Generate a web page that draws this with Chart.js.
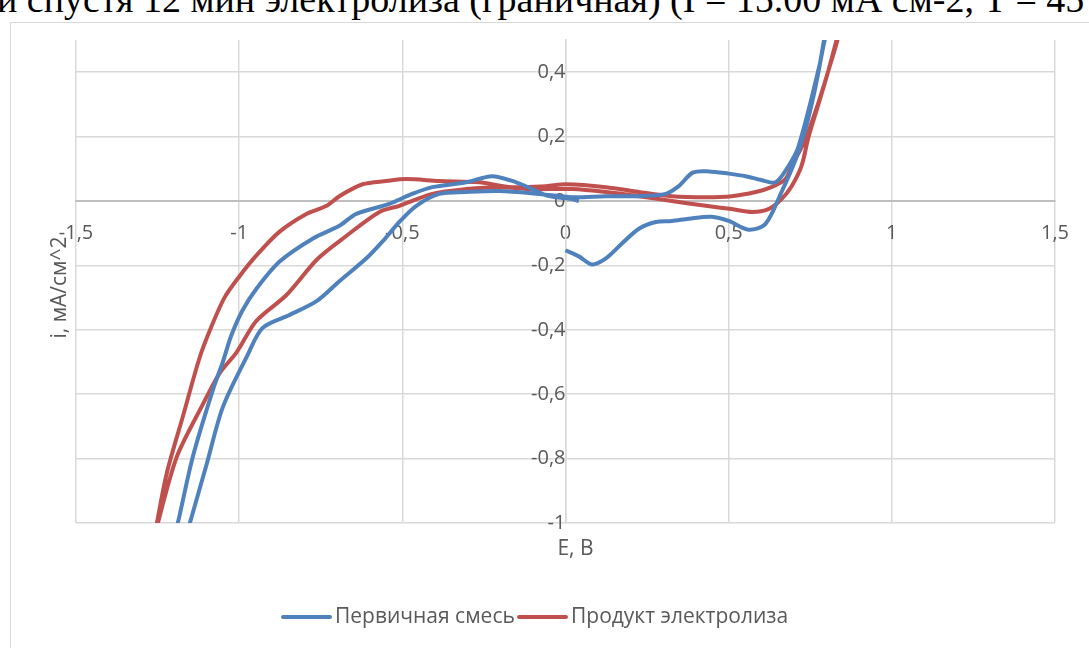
<!DOCTYPE html>
<html>
<head>
<meta charset="utf-8">
<script src="https://cdn.jsdelivr.net/npm/chart.js@4.4.1/dist/chart.umd.min.js"></script>
<style>
  html, body { margin: 0; padding: 0; background: #fff; overflow: hidden; }
  body { width: 1089px; height: 648px; position: relative; }
  .cut-title {
    position: absolute; left: -3px; top: -20px;
    font: 38px "Liberation Serif", "Times New Roman", serif;
    line-height: 38px; white-space: nowrap; color: #000;
  }
  .frame {
    position: absolute; left: 10px; top: 22px; width: 1100px; height: 700px;
    border: 1px solid #D9D9D9; box-sizing: border-box; background: #fff;
  }
  #chart { position: absolute; left: 0; top: 0; }
</style>
</head>
<body>
<div class="cut-title">и спустя 12 мин электролиза (граничная) (I = 15.00 мА см-2, T = 45</div>
<div class="frame"></div>
<canvas id="chart" width="1089" height="648"></canvas>
<script>
// axis ticks
const xTickValues = [-1.5, -1, -0.5, 0, 0.5, 1, 1.5];
const xTickLabels = ['-1,5', '-1', '-0,5', '0', '0,5', '1', '1,5'];
const yTickValues = [-1, -0.8, -0.6, -0.4, -0.2, 0, 0.2, 0.4];
const yTickLabels = ['-1', '-0,8', '-0,6', '-0,4', '-0,2', '0', '0,2', '0,4'];

const xTitle = 'E, В';
const yTitle = 'i, мА/см^2';
const seriesNames = ['Первичная смесь', 'Продукт электролиза'];

// Первичная смесь: potential (V) and current (mA/cm^2)
const blueE = [
  0.000, 0.041, 0.081, 0.124, 0.173, 0.225, 0.277, 0.326, 0.378, 0.448, 0.500, 0.561, 0.613,
  0.662, 0.705, 0.739, 0.766, 0.794, 0.812,
  0.800, 0.778, 0.714, 0.683, 0.644, 0.600, 0.552, 0.500, 0.439, 0.390, 0.347, 0.307, 0.225,
  0.124, 0.020, -0.081, -0.203, -0.304, -0.387, -0.457, -0.509, -0.560, -0.610, -0.693,
  -0.763, -0.846, -0.928, -0.975, -1.050, -1.099, -1.151, -1.168,
  -1.205, -1.188, -1.142, -1.081, -1.050, -1.025, -0.990, -0.946, -0.876, -0.775, -0.693, -0.641,
  -0.540, -0.470, -0.408, -0.304, -0.225, -0.151, -0.102, -0.050, 0.020, 0.041
];
const blueI = [
  -0.153, -0.172, -0.197, -0.178, -0.132, -0.086, -0.065, -0.062, -0.055, -0.049, -0.062, -0.089, -0.071,
  0.028, 0.129, 0.237, 0.354, 0.498, 0.560,
  0.540, 0.420, 0.169, 0.108, 0.058, 0.065, 0.077, 0.085, 0.092, 0.088, 0.046, 0.022, 0.015,
  0.015, 0.012, 0.022, 0.031, 0.028, 0.022, -0.015, -0.065, -0.125, -0.178, -0.249,
  -0.311, -0.354, -0.394, -0.480, -0.640, -0.815, -1.000, -1.060,
  -1.060, -1.000, -0.794, -0.588, -0.500, -0.420, -0.340, -0.271, -0.188, -0.117, -0.077, -0.040,
  -0.009, 0.022, 0.043, 0.058, 0.077, 0.058, 0.037, 0.015, 0.006, 0.000
];

// Продукт электролиза
const redE = [
  -1.262, -1.252, -1.222, -1.173, -1.121, -1.085, -1.045, -1.000, -0.947, -0.876, -0.794, -0.732,
  -0.693, -0.622, -0.549, -0.488, -0.387, -0.265, -0.164, -0.060, 0.002, 0.124, 0.225,
  0.326, 0.430, 0.509, 0.583, 0.631, 0.674, 0.693, 0.735, 0.775, 0.806, 0.833, 0.848,
  0.836, 0.806, 0.775, 0.745, 0.723, 0.693, 0.662, 0.622, 0.572, 0.509, 0.430, 0.326,
  0.225, 0.124, 0.020, -0.102, -0.203, -0.304, -0.408, -0.509, -0.570, -0.671,
  -0.760, -0.855, -0.947, -1.008, -1.060, -1.111, -1.191, -1.249, -1.262
];
const redI = [
  -1.060, -1.000, -0.846, -0.671, -0.486, -0.390, -0.300, -0.235, -0.169, -0.095, -0.040, -0.015,
  0.015, 0.052, 0.062, 0.068, 0.062, 0.058, 0.043, 0.046, 0.052, 0.043, 0.028,
  0.015, 0.012, 0.015, 0.028, 0.043, 0.068, 0.108, 0.191, 0.305, 0.406, 0.498, 0.560,
  0.520, 0.406, 0.300, 0.200, 0.108, 0.046, 0.006, -0.025, -0.034, -0.025, -0.015, 0.000,
  0.015, 0.028, 0.037, 0.037, 0.043, 0.037, 0.022, -0.015, -0.034, -0.108,
  -0.180, -0.292, -0.372, -0.470, -0.535, -0.631, -0.794, -1.000, -1.060
];

const blueColor = '#4F81BD';
const redColor = '#C0504D';
const textColor = '#595959';
const fontFamily = '"Open Sans", "Noto Sans", sans-serif';

const toPoints = (xs, ys) => xs.map((x, i) => ({x: x, y: ys[i]}));

// axis titles and legend, placed like the spreadsheet chart
const extras = {
    id: 'extras',
    afterDraw(chart) {
        const {ctx, chartArea: a} = chart;
        ctx.save();
        ctx.fillStyle = textColor;
        ctx.font = '21px ' + fontFamily;
        ctx.textAlign = 'center';
        ctx.textBaseline = 'middle';
        ctx.fillText(xTitle, (a.left + a.right) / 2 + 10, a.bottom + 26);

        ctx.save();
        ctx.translate(a.left - 16, (a.top + a.bottom) / 2 + 6);
        ctx.rotate(-Math.PI / 2);
        ctx.fillText(yTitle, 0, 0);
        ctx.restore();

        // legend
        const legendY = 617;
        const starts = [283, 519];
        ctx.textAlign = 'left';
        chart.data.datasets.forEach((ds, k) => {
            const x0 = starts[k];
            ctx.strokeStyle = ds.borderColor;
            ctx.lineWidth = 4;
            ctx.lineCap = 'round';
            ctx.beginPath();
            ctx.moveTo(x0, legendY);
            ctx.lineTo(x0 + 47, legendY);
            ctx.stroke();
            ctx.fillStyle = textColor;
            ctx.fillText(ds.label, x0 + 52, legendY);
        });
        ctx.restore();
    }
};

new Chart(document.getElementById('chart'), {
    type: 'scatter',
    data: {
        datasets: [
            {
                label: seriesNames[0],
                data: toPoints(blueE, blueI),
                showLine: true,
                borderColor: blueColor,
                backgroundColor: blueColor,
                borderWidth: 4,
                pointRadius: 0,
                tension: 0.3
            },
            {
                label: seriesNames[1],
                data: toPoints(redE, redI),
                showLine: true,
                borderColor: redColor,
                backgroundColor: redColor,
                borderWidth: 4,
                pointRadius: 0,
                tension: 0.3
            }
        ]
    },
    options: {
        responsive: false,
        animation: false,
        layout: {padding: {top: 40, left: 76, right: 32, bottom: 125}},
        plugins: {
            legend: {display: false},
            tooltip: {enabled: false}
        },
        scales: {
            x: {
                type: 'linear',
                min: -1.5, max: 1.5,
                position: {y: 0},
                afterBuildTicks: (s) => { s.ticks = xTickValues.map(v => ({value: v})); },
                grid: {color: '#D9D9D9', lineWidth: 1.5, drawTicks: false},
                border: {color: '#BFBFBF', width: 2},
                ticks: {
                    padding: 20,
                    color: textColor,
                    font: {family: fontFamily, size: 20},
                    maxRotation: 0,
                    callback: (v) => xTickLabels[xTickValues.indexOf(v)]
                }
            },
            y: {
                type: 'linear',
                min: -1, max: 0.5,
                position: {x: 0},
                afterBuildTicks: (s) => { s.ticks = yTickValues.map(v => ({value: v})); },
                grid: {color: '#D9D9D9', lineWidth: 1.5, drawTicks: false},
                border: {color: '#D9D9D9', width: 1.5},
                ticks: {
                    padding: 9,
                    color: textColor,
                    font: {family: fontFamily, size: 20},
                    callback: (v) => yTickLabels[yTickValues.indexOf(v)]
                }
            }
        }
    },
    plugins: [extras]
});
</script>
</body>
</html>
